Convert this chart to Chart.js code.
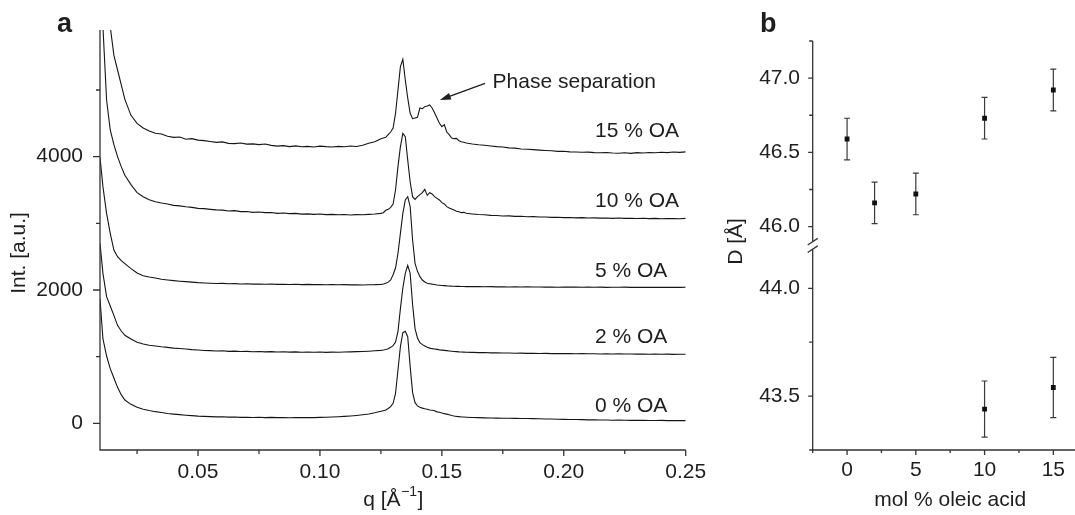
<!DOCTYPE html>
<html>
<head>
<meta charset="utf-8">
<script src="https://cdn.jsdelivr.net/npm/chart.js@4.4.1/dist/chart.umd.min.js"></script>
<style>
  html, body { margin: 0; padding: 0; background: #fff; overflow: hidden; }
  body { width: 1075px; height: 515px; position: relative; }
  canvas { position: absolute; }
</style>
</head>
<body>
<canvas id="saxsChart" width="740" height="515" style="left:0;top:0"></canvas>
<canvas id="spacingUpper" width="380" height="260" style="left:720px;top:0"></canvas>
<canvas id="spacingLower" width="380" height="315" style="left:720px;top:200px"></canvas>
<script>
// ---- panel a: scattering curves (offset stacked as in the figure) ----
const qValues = [
  0.0098, 0.011, 0.0125, 0.014, 0.0155, 0.017, 0.0185, 0.02, 0.0225, 0.025, 0.0275,
  0.03, 0.0325, 0.035, 0.0375, 0.04, 0.0425, 0.045, 0.0475, 0.05, 0.0525,
  0.055, 0.0575, 0.06, 0.0625, 0.065, 0.0675, 0.07, 0.0725, 0.075, 0.0775,
  0.08, 0.0825, 0.085, 0.0875, 0.09, 0.0925, 0.095, 0.0975, 0.1, 0.1025,
  0.105, 0.1075, 0.11, 0.1125, 0.115, 0.1175, 0.12, 0.1225, 0.125,
  0.126, 0.127, 0.128, 0.129, 0.13, 0.131, 0.132, 0.133, 0.134, 0.135,
  0.136, 0.137, 0.138, 0.139, 0.14, 0.141, 0.142, 0.143, 0.144, 0.145,
  0.146, 0.147, 0.148, 0.149, 0.15, 0.151, 0.152, 0.153, 0.154, 0.155,
  0.156, 0.157, 0.158, 0.159, 0.16,
  0.1625, 0.165, 0.1675, 0.17, 0.1725, 0.175, 0.1775, 0.18, 0.1825, 0.185,
  0.1875, 0.19, 0.1925, 0.195, 0.1975, 0.2, 0.2025, 0.205, 0.2075, 0.21,
  0.2125, 0.215, 0.2175, 0.22, 0.2225, 0.225, 0.2275, 0.23, 0.2325, 0.235,
  0.2375, 0.24, 0.2425, 0.245, 0.2475, 0.25
];

const int0 = [
  1870, 1270, 1010, 820, 680, 540, 430, 350, 285, 240, 212,
  192, 175, 162, 148, 138, 130, 122, 115, 108, 104,
  100, 97, 99, 93, 95, 90, 92, 88, 91, 86,
  89, 85, 88, 84, 87, 85, 88, 86, 90, 92,
  96, 99, 104, 110, 118, 128, 140, 158, 180,
  190, 200, 222, 250, 300, 450, 800, 1150, 1360, 1380,
  1300, 850, 460, 310, 262, 242, 228, 218, 210, 200,
  196, 190, 172, 165, 155, 146, 138, 128, 118, 110,
  104, 100, 96, 94, 92,
  88, 85, 82, 80, 78, 76, 77, 74, 72, 73,
  70, 68, 66, 64, 62, 60, 58, 57, 55, 52,
  53, 50, 49, 47, 48, 46, 45, 44, 46, 43,
  42, 44, 41, 40, 42, 40
];

const int2 = [
  2700, 2250, 1900, 1760, 1620, 1470, 1385, 1320, 1265, 1215, 1190,
  1172, 1160, 1148, 1140, 1128, 1122, 1115, 1105, 1100, 1092,
  1090, 1085, 1088, 1080, 1083, 1078, 1080, 1074, 1077, 1072,
  1075, 1070, 1073, 1068, 1072, 1067, 1070, 1066, 1069, 1065,
  1068, 1066, 1070, 1072, 1075, 1078, 1082, 1088, 1095,
  1100, 1108, 1118, 1140, 1165, 1220, 1380, 1720, 2030, 2250,
  2370, 2250, 1780, 1420, 1280, 1210, 1180, 1160, 1140, 1128,
  1120, 1115, 1110, 1102, 1098, 1094, 1090, 1086, 1082, 1078,
  1075, 1072, 1070, 1068, 1066,
  1064, 1060, 1062, 1057, 1058, 1054, 1056, 1052, 1053, 1049,
  1051, 1048, 1050, 1046, 1048, 1045, 1047, 1044, 1046, 1043,
  1044, 1041, 1043, 1040, 1042, 1039, 1041, 1038, 1040, 1037,
  1039, 1036, 1038, 1035, 1037, 1036
];

const int5 = [
  3990, 3550, 3150, 2850, 2600, 2500, 2440, 2395, 2320, 2255, 2215,
  2195, 2180, 2162, 2150, 2140, 2132, 2125, 2118, 2110, 2106,
  2102, 2098, 2100, 2094, 2096, 2090, 2093, 2088, 2091, 2086,
  2089, 2084, 2087, 2083, 2086, 2081, 2084, 2080, 2083, 2079,
  2082, 2078, 2080, 2077, 2079, 2076, 2078, 2080, 2085,
  2090, 2100, 2118, 2150, 2230, 2330, 2550, 2850, 3150, 3350,
  3400, 3250, 2750, 2400, 2280, 2200, 2150, 2120, 2102, 2095,
  2088, 2082, 2076, 2072, 2068, 2065, 2062, 2060, 2058, 2057,
  2055, 2054, 2052, 2053, 2051,
  2050, 2052, 2048, 2050, 2047, 2049, 2046, 2048, 2045, 2047,
  2044, 2046, 2043, 2045, 2042, 2044, 2043, 2045, 2042, 2044,
  2041, 2043, 2040, 2042, 2041, 2043, 2040, 2042, 2039, 2041,
  2040, 2042, 2039, 2041, 2040, 2042
];

const int10 = [
  7000, 5950, 4850, 4400, 4180, 4000, 3850, 3720, 3580, 3460, 3400,
  3355, 3325, 3305, 3290, 3270, 3262, 3248, 3240, 3225, 3220,
  3210, 3202, 3198, 3185, 3190, 3175, 3178, 3165, 3170, 3160,
  3162, 3150, 3155, 3145, 3150, 3138, 3142, 3135, 3140, 3130,
  3135, 3128, 3132, 3125, 3130, 3128, 3135, 3140, 3150,
  3160, 3195, 3210, 3240, 3290, 3500, 3850, 4150, 4350, 4300,
  3950, 3620, 3400, 3360, 3400, 3430, 3460, 3510, 3420, 3460,
  3440, 3400, 3375, 3350, 3310, 3290, 3250, 3230, 3215, 3200,
  3180, 3175, 3160, 3165, 3150,
  3140, 3132, 3128, 3120, 3118, 3110, 3112, 3104, 3106, 3098,
  3100, 3094, 3096, 3090, 3092, 3086, 3088, 3082, 3085, 3080,
  3082, 3078, 3080, 3075, 3079, 3074, 3077, 3072, 3076, 3070,
  3074, 3068, 3072, 3070, 3068, 3075
];

const int15 = [
  8500, 7600, 6800, 5950, 5520, 5300, 5080, 4860, 4620, 4500, 4430,
  4385, 4350, 4340, 4305, 4290, 4295, 4262, 4270, 4248, 4240,
  4228, 4215, 4222, 4200, 4195, 4205, 4188, 4192, 4180, 4190,
  4170, 4158, 4165, 4150, 4162, 4148, 4155, 4145, 4158, 4150,
  4145, 4155, 4148, 4160, 4152, 4170, 4200, 4225, 4270,
  4280, 4290, 4330, 4370, 4430, 4650, 5000, 5350, 5460, 5150,
  4880, 4650, 4570, 4580, 4590, 4730, 4720, 4750, 4760, 4775,
  4730, 4660, 4580, 4500, 4450, 4480, 4370, 4330, 4280, 4270,
  4275, 4240, 4225, 4215, 4205,
  4190, 4178, 4172, 4160, 4150, 4145, 4132, 4128, 4115, 4112,
  4105, 4098, 4092, 4088, 4080, 4082, 4072, 4070, 4066, 4068,
  4060, 4058, 4062, 4055, 4052, 4058, 4050, 4060, 4055, 4062,
  4058, 4066, 4060, 4070, 4065, 4072
];

const curveNames = ['0 % OA', '2 % OA', '5 % OA', '10 % OA', '15 % OA'];
const curveSeries = [int0, int2, int5, int10, int15];

const qMajor = [0.05, 0.1, 0.15, 0.2, 0.25];
const qMinor = [0.025, 0.075, 0.125, 0.175, 0.225];
const intMajor = [0, 2000, 4000];
const intMinor = [1000, 3000, 5000];

// ---- panel b: repeat distance vs oleic acid ----
const molOA = [0, 2, 5, 10, 15];
const dMain = [46.59, 46.16, 46.22, 46.73, 46.92];
const dMainErr = [0.14, 0.14, 0.14, 0.14, 0.14];
const molOASplit = [10, 15];
const dSplit = [43.44, 43.54];
const dSplitErr = [0.13, 0.14];

const molMajor = [0, 5, 10, 15];
const molMinor = [-2.5, 2.5, 7.5, 12.5, 17.5];
const dUpperMajor = [46.0, 46.5, 47.0];
const dUpperMinor = [46.25, 46.75, 47.25];
const dLowerMajor = [43.5, 44.0];
const dLowerMinor = [43.25, 43.75];

// label placement (data units of panel a)
const tagQ = 0.2128;
const tagLevels = [170, 1205, 2195, 3245, 4295];

const FONT = '"Liberation Sans", Arial, Helvetica, sans-serif';
const INK = '#1e1e1e';
const AXIS = '#333';

function drawAxes(chart, cfg) {
  const { ctx, chartArea: a, scales } = chart;
  ctx.save();
  ctx.strokeStyle = AXIS;
  ctx.lineWidth = 1.3;
  ctx.beginPath();
  ctx.moveTo(a.left, a.top);
  ctx.lineTo(a.left, a.bottom);
  if (cfg.x) {
    ctx.moveTo(a.left - 0.65, a.bottom);
    ctx.lineTo(a.right, a.bottom);
  }
  // y ticks point left
  const y = cfg.y;
  y.minor.forEach(v => {
    const p = scales.y.getPixelForValue(v);
    ctx.moveTo(a.left, p); ctx.lineTo(a.left - y.minorLen, p);
  });
  y.major.forEach(v => {
    const p = scales.y.getPixelForValue(v);
    ctx.moveTo(a.left, p); ctx.lineTo(a.left - y.majorLen, p);
  });
  if (cfg.x) {
    const x = cfg.x;
    x.minor.forEach(v => {
      const p = scales.x.getPixelForValue(v);
      ctx.moveTo(p, a.bottom); ctx.lineTo(p, a.bottom + x.minorLen);
    });
    x.major.forEach(v => {
      const p = scales.x.getPixelForValue(v);
      ctx.moveTo(p, a.bottom); ctx.lineTo(p, a.bottom + x.majorLen);
    });
  }
  ctx.stroke();

  ctx.fillStyle = INK;
  ctx.font = '21px ' + FONT;
  ctx.textAlign = 'right';
  ctx.textBaseline = 'middle';
  y.major.forEach(v => ctx.fillText(y.fmt(v), a.left - y.gap, scales.y.getPixelForValue(v)));
  if (cfg.x) {
    const x = cfg.x;
    ctx.textAlign = 'center';
    x.major.forEach(v => ctx.fillText(x.fmt(v), scales.x.getPixelForValue(v), a.bottom + x.gap));
  }
  ctx.restore();
}

function errorBars(chart, xs, ys, errs) {
  const { ctx, scales } = chart;
  ctx.save();
  ctx.strokeStyle = '#3a3a3a';
  ctx.lineWidth = 1.2;
  ctx.beginPath();
  xs.forEach((xv, i) => {
    const px = scales.x.getPixelForValue(xv);
    const top = scales.y.getPixelForValue(ys[i] + errs[i]);
    const bot = scales.y.getPixelForValue(ys[i] - errs[i]);
    ctx.moveTo(px, top); ctx.lineTo(px, bot);
    ctx.moveTo(px - 3, top); ctx.lineTo(px + 3, top);
    ctx.moveTo(px - 3, bot); ctx.lineTo(px + 3, bot);
  });
  ctx.stroke();
  ctx.restore();
}

const hiddenScales = (xmin, xmax, ymin, ymax) => ({
  x: { type: 'linear', display: false, min: xmin, max: xmax },
  y: { type: 'linear', display: false, min: ymin, max: ymax }
});

const baseOptions = {
  responsive: false,
  animation: false,
  events: [],
  plugins: { legend: { display: false }, tooltip: { enabled: false } }
};

// Panel a
new Chart(document.getElementById('saxsChart'), {
  type: 'line',
  data: {
    datasets: curveSeries.map((vals, k) => ({
      label: curveNames[k],
      data: qValues.map((q, i) => ({ x: q, y: vals[i] })),
      borderColor: '#151515',
      borderWidth: 1.1,
      pointRadius: 0,
      tension: 0
    }))
  },
  options: {
    ...baseOptions,
    layout: { padding: { left: 100, top: 30, right: 54.3, bottom: 65 } },
    scales: hiddenScales(0.0098, 0.25, -400, 5900)
  },
  plugins: [{
    id: 'panelA',
    afterDraw(chart) {
      drawAxes(chart, {
        x: { major: qMajor, minor: qMinor, majorLen: 6, minorLen: 4, gap: 22, fmt: v => v.toFixed(2) },
        y: { major: intMajor, minor: intMinor, majorLen: 7, minorLen: 4, gap: 17, fmt: v => String(v) }
      });
      const { ctx, scales } = chart;
      const sx = v => scales.x.getPixelForValue(v);
      const sy = v => scales.y.getPixelForValue(v);
      ctx.save();
      ctx.fillStyle = INK;
      ctx.font = '21px ' + FONT;
      ctx.textAlign = 'left';
      ctx.textBaseline = 'alphabetic';
      curveNames.forEach((name, k) => ctx.fillText(name, sx(tagQ), sy(tagLevels[k])));
      ctx.fillText('Phase separation', sx(0.1708), sy(5030));

      // arrow to the shoulder
      const x0 = sx(0.1677), y0 = sy(5100), x1 = sx(0.1492), y1 = sy(4850);
      const ang = Math.atan2(y1 - y0, x1 - x0);
      ctx.strokeStyle = INK;
      ctx.lineWidth = 1.3;
      ctx.beginPath();
      ctx.moveTo(x0, y0);
      ctx.lineTo(x1 - 8 * Math.cos(ang), y1 - 8 * Math.sin(ang));
      ctx.stroke();
      ctx.beginPath();
      ctx.moveTo(x1, y1);
      ctx.lineTo(x1 - 11 * Math.cos(ang) + 3.5 * Math.sin(ang), y1 - 11 * Math.sin(ang) - 3.5 * Math.cos(ang));
      ctx.lineTo(x1 - 11 * Math.cos(ang) - 3.5 * Math.sin(ang), y1 - 11 * Math.sin(ang) + 3.5 * Math.cos(ang));
      ctx.closePath();
      ctx.fill();

      // axis titles
      const a = chart.chartArea;
      ctx.textAlign = 'center';
      ctx.textBaseline = 'middle';
      ctx.save();
      ctx.translate(19, 253);
      ctx.rotate(-Math.PI / 2);
      ctx.fillText('Int. [a.u.]', 0, 0);
      ctx.restore();

      ctx.textBaseline = 'alphabetic';
      ctx.textAlign = 'left';
      const part1 = 'q [Å', sup = '−1', part2 = ']';
      ctx.font = '21px ' + FONT;
      const w1 = ctx.measureText(part1).width, w3 = ctx.measureText(part2).width;
      ctx.font = '14px ' + FONT;
      const w2 = ctx.measureText(sup).width;
      let tx = (a.left + a.right) / 2 - (w1 + w2 + w3) / 2;
      const base = 506;
      ctx.font = '21px ' + FONT;
      ctx.fillText(part1, tx, base);
      ctx.font = '14px ' + FONT;
      ctx.fillText(sup, tx + w1 + 0.5, base - 10);
      ctx.font = '21px ' + FONT;
      ctx.fillText(part2, tx + w1 + w2 + 1, base);

      ctx.font = 'bold 27px ' + FONT;
      ctx.fillText('a', 57, 32);
      ctx.restore();
    }
  }]
});

// Panel b, upper part of the broken axis
const markerStyle = { pointStyle: 'rect', pointRadius: 3.4, backgroundColor: '#111', borderWidth: 0 };

new Chart(document.getElementById('spacingUpper'), {
  type: 'scatter',
  data: {
    datasets: [{ label: 'D', data: molOA.map((m, i) => ({ x: m, y: dMain[i] })), ...markerStyle }]
  },
  options: {
    ...baseOptions,
    layout: { padding: { left: 92.7, top: 41, right: 12.3, bottom: 18.5 } },
    scales: hiddenScales(-2.5, 17.5, 45.9, 47.25)
  },
  plugins: [{
    id: 'panelBUpper',
    beforeDatasetsDraw(chart) { errorBars(chart, molOA, dMain, dMainErr); },
    afterDraw(chart) {
      drawAxes(chart, {
        y: { major: dUpperMajor, minor: dUpperMinor, majorLen: 4.5, minorLen: 3.5, gap: 12.7, fmt: v => v.toFixed(1) }
      });
      const ctx = chart.ctx;
      ctx.save();
      ctx.fillStyle = INK;
      ctx.font = 'bold 27px ' + FONT;
      ctx.textBaseline = 'alphabetic';
      ctx.fillText('b', 40, 32);
      ctx.restore();
    }
  }]
});

// Panel b, lower part of the broken axis
new Chart(document.getElementById('spacingLower'), {
  type: 'scatter',
  data: {
    datasets: [{ label: 'D', data: molOASplit.map((m, i) => ({ x: m, y: dSplit[i] })), ...markerStyle }]
  },
  options: {
    ...baseOptions,
    layout: { padding: { left: 92.7, top: 49.5, right: 12.3, bottom: 65 } },
    scales: hiddenScales(-2.5, 17.5, 43.25, 44.18)
  },
  plugins: [{
    id: 'panelBLower',
    beforeDatasetsDraw(chart) { errorBars(chart, molOASplit, dSplit, dSplitErr); },
    afterDraw(chart) {
      drawAxes(chart, {
        x: { major: molMajor, minor: molMinor, majorLen: 5, minorLen: 3, gap: 20, fmt: v => String(v) },
        y: { major: dLowerMajor, minor: dLowerMinor, majorLen: 4.5, minorLen: 3.5, gap: 12.7, fmt: v => v.toFixed(1) }
      });
      const { ctx, chartArea: a } = chart;
      ctx.save();
      // break marks on the y axis
      ctx.strokeStyle = AXIS;
      ctx.lineWidth = 1.3;
      ctx.beginPath();
      [a.top - 7.8, a.top - 0.3].forEach(cy => {
        ctx.moveTo(a.left - 5, cy + 3.3);
        ctx.lineTo(a.left + 5, cy - 3.3);
      });
      ctx.stroke();

      ctx.fillStyle = INK;
      ctx.font = '21px ' + FONT;
      ctx.textAlign = 'center';
      ctx.textBaseline = 'alphabetic';
      ctx.fillText('mol % oleic acid', (a.left + a.right) / 2, 306);
      ctx.save();
      ctx.translate(16, 41.5);
      ctx.rotate(-Math.PI / 2);
      ctx.textBaseline = 'middle';
      ctx.fillText('D [Å]', 0, 0);
      ctx.restore();
      ctx.restore();
    }
  }]
});
</script>
</body>
</html>
